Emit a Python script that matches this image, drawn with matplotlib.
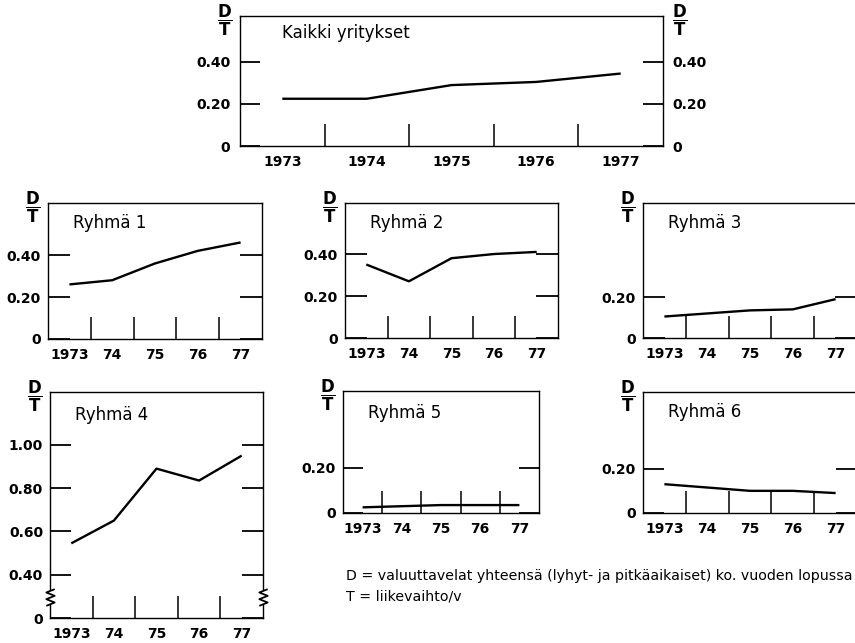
import numpy as np
import matplotlib
matplotlib.use('Agg')
import matplotlib.pyplot as plt
from matplotlib.transforms import blended_transform_factory

plt.rcParams['font.family'] = ['DejaVu Sans']
plt.rcParams['mathtext.fontset'] = 'dejavusans'

# Vuodet ja D/T-suhteet
vuodet = [1973, 1974, 1975, 1976, 1977]
vuodet_pitka = ['1973', '1974', '1975', '1976', '1977']
vuodet_lyhyt = ['1973', '74', '75', '76', '77']

kaikki = [0.225, 0.225, 0.29, 0.305, 0.345]
ryhma1 = [0.26, 0.28, 0.36, 0.42, 0.46]
ryhma2 = [0.35, 0.27, 0.38, 0.40, 0.41]
ryhma3 = [0.105, 0.12, 0.135, 0.14, 0.19]
ryhma4 = [0.545, 0.65, 0.89, 0.835, 0.95]
ryhma5 = [0.025, 0.03, 0.035, 0.035, 0.035]
ryhma6 = [0.13, 0.115, 0.10, 0.10, 0.09]

W, H = 855, 643
fig = plt.figure(figsize=(W / 100, H / 100), dpi=100)


def paneeli(vasen, yla, oikea, ala):
    return fig.add_axes([vasen / W, 1 - ala / H, (oikea - vasen) / W, (ala - yla) / H])


def piirra(ax, arvot, otsikko, ytikit, ynimet, ymax, xnimet,
           ypituus=16, otsikko_dx=18, otsikko_dy=-14.5, oikea=False):
    ax.plot(vuodet, arvot, color='black', lw=1.7, solid_capstyle='butt')
    ax.set_xlim(1972.5, 1977.5)
    ax.set_ylim(0, ymax)

    ax.set_xticks(vuodet)
    ax.set_xticklabels(xnimet, fontweight='bold')
    ax.set_xticks(np.array(vuodet[:-1]) + 0.5, minor=True)
    ax.tick_params(axis='x', which='major', length=0, pad=6.5, labelsize=10)
    ax.tick_params(axis='x', which='minor', direction='in', length=15.5, width=1.1)

    ax.set_yticks(ytikit)
    ax.set_yticklabels(ynimet, fontweight='bold')
    ax.tick_params(axis='y', direction='in', length=ypituus, width=1.3,
                   left=True, right=True, labelsize=10, pad=5,
                   labelright=oikea)
    if oikea:
        for t in ax.yaxis.get_major_ticks():
            t.set_pad(7)

    for s in ax.spines.values():
        s.set_linewidth(1.0)

    ax.annotate(otsikko, xy=(0, 1), xycoords='axes fraction',
                xytext=(otsikko_dx, otsikko_dy), textcoords='offset points',
                ha='left', va='center', fontsize=12)
    dt = r'$\dfrac{\mathbf{D}}{\mathbf{T}}$'
    ax.annotate(dt, xy=(0, 1), xycoords='axes fraction', xytext=(-11, -3),
                textcoords='offset points', ha='center', va='center', fontsize=12)
    if oikea:
        ax.annotate(dt, xy=(1, 1), xycoords='axes fraction', xytext=(12, -3),
                    textcoords='offset points', ha='center', va='center', fontsize=12)


# Kaikki yritykset
ax0 = paneeli(240, 16, 663, 146)
piirra(ax0, kaikki, 'Kaikki yritykset', [0, 0.2, 0.4], ['0', '0.20', '0.40'], 0.619,
       vuodet_pitka, ypituus=14.5, otsikko_dx=30, otsikko_dy=-12, oikea=True)

# Ryhmät 1-3
ax1 = paneeli(48, 203, 262, 339)
piirra(ax1, ryhma1, 'Ryhmä 1', [0, 0.2, 0.4], ['0', '0.20', '0.40'], 0.648, vuodet_lyhyt)

ax2 = paneeli(345, 203, 558, 338)
piirra(ax2, ryhma2, 'Ryhmä 2', [0, 0.2, 0.4], ['0', '0.20', '0.40'], 0.643, vuodet_lyhyt)

ax3 = paneeli(643, 203, 857, 338)
piirra(ax3, ryhma3, 'Ryhmä 3', [0, 0.2], ['0', '0.20'], 0.66, vuodet_lyhyt)

# Ryhmä 4: katkaistu pystyakseli välillä 0-0.40


def eteen(v):
    v = np.asarray(v, dtype=float)
    return np.where(v < 0.4, v * 0.5, v - 0.2)


def taakse(u):
    u = np.asarray(u, dtype=float)
    return np.where(u < 0.2, u * 2.0, u + 0.2)


ax4 = paneeli(50, 392, 263, 618)
ax4.set_yscale('function', functions=(eteen, taakse))
piirra(ax4, ryhma4, 'Ryhmä 4', [0, 0.4, 0.6, 0.8, 1.0],
       ['0', '0.40', '0.60', '0.80', '1.00'], 1.244, vuodet_lyhyt,
       ypituus=15, otsikko_dy=-16.5)

katko = [(-1.0, -2.0), (1.0, -1.2), (-1.0, -0.4), (1.0, 0.4), (-1.0, 1.2), (1.0, 2.0)]
tr = blended_transform_factory(ax4.transAxes, ax4.transData)
ax4.plot([0, 1], [0.19, 0.19], transform=tr, linestyle='none', marker='s',
         markersize=8, color='white', clip_on=False, zorder=4)
ax4.plot([0, 1], [0.19, 0.19], transform=tr, linestyle='none', marker=katko,
         markersize=12, markeredgewidth=1.3, markeredgecolor='black',
         fillstyle='none', clip_on=False, zorder=5)

# Ryhmät 5-6
ax5 = paneeli(343, 391, 539, 513)
piirra(ax5, ryhma5, 'Ryhmä 5', [0, 0.2], ['0', '0.20'], 0.539, vuodet_lyhyt,
       ypituus=14.5, otsikko_dy=-16)

ax6 = paneeli(643, 392, 857, 513)
piirra(ax6, ryhma6, 'Ryhmä 6', [0, 0.2], ['0', '0.20'], 0.546, vuodet_lyhyt,
       ypituus=15, otsikko_dy=-14.5)

# Selitteet
fig.text(346 / W, 1 - 576 / H,
         'D = valuuttavelat yhteensä (lyhyt- ja pitkäaikaiset) ko. vuoden lopussa',
         ha='left', va='center', fontsize=10.2)
fig.text(346 / W, 1 - 597 / H, 'T = liikevaihto/v', ha='left', va='center', fontsize=10.2)

fig.savefig('out.png', dpi=100)
